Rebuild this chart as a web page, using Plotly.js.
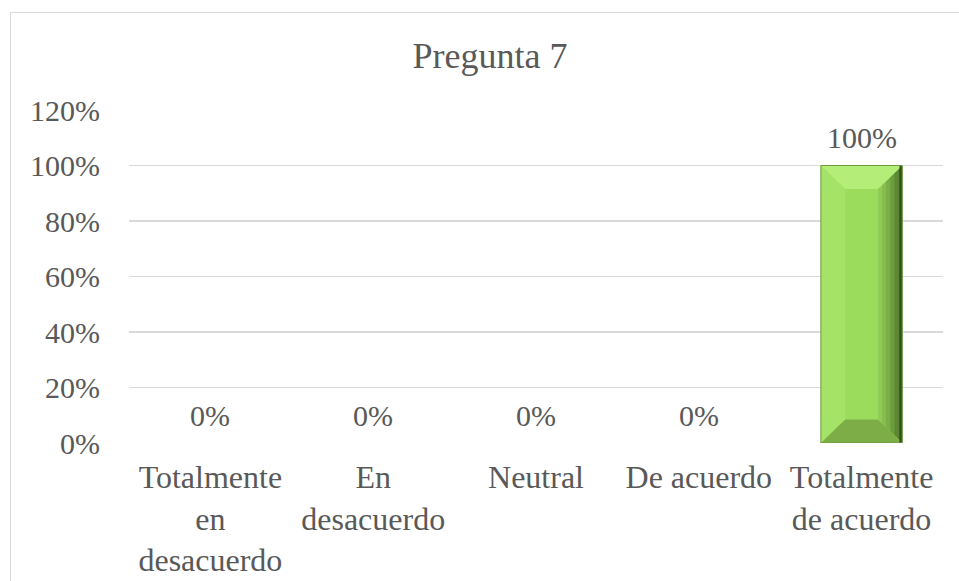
<!DOCTYPE html>
<html>
<head>
<meta charset="utf-8">
<script src="https://cdn.plot.ly/plotly-3.0.1.min.js"></script>
<style>
  html, body { margin: 0; padding: 0; background: #ffffff; overflow: hidden; }
  #frame { position: absolute; left: 10px; top: 12px; width: 980px; height: 620px; border: 1.5px solid #d9d9d9; box-sizing: border-box; pointer-events: none; z-index: 5; }
  #chart { width: 959px; height: 581px; }
</style>
</head>
<body>
<div id="frame"></div>
<div id="chart"></div>
<script>
// ---- data ----
const categories = ["Totalmente<br>en<br>desacuerdo", "En<br>desacuerdo", "Neutral", "De acuerdo", "Totalmente<br>de acuerdo"];
const values = [0, 0, 0, 0, 1.0];
const yTickVals = [0, 0.2, 0.4, 0.6, 0.8, 1.0, 1.2];
const chartTitle = "Pregunta 7";

// ---- styling ----
const textColor = "#595959";
const fontFamily = "Liberation Serif, Times New Roman, serif";
const barWidth = 0.5;
const bevelX = 0.15;   // in category units
const bevelY = 0.085;  // in value units

const idx = categories.map((_, i) => i);

const barTrace = {
  type: "bar",
  x: idx,
  y: values,
  width: barWidth,
  marker: { color: "#9cdc5c", line: { width: 0 } },
  hoverinfo: "skip",
  showlegend: false
};

// bevel facets computed from the bar data
const shapes = [];
idx.forEach(i => {
  const v = values[i];
  if (v <= 0) return;
  const x0 = i - barWidth / 2, x1 = i + barWidth / 2;
  const ix0 = x0 + bevelX, ix1 = x1 - bevelX;
  const iy0 = bevelY, iy1 = v - bevelY;
  const facet = (pts, color) => shapes.push({
    type: "path", xref: "x", yref: "y",
    path: "M" + pts.map(p => p[0] + "," + p[1]).join(" L") + " Z",
    fillcolor: color, line: { width: 0 }, layer: "above"
  });
  // left
  facet([[x0, 0], [ix0, iy0], [ix0, iy1], [x0, v]], "#a4e268");
  // right (gradient in strips)
  const strips = ["#90cc55", "#85bd4e", "#7aae47", "#6c9c3e", "#5c8834", "#4a7029"];
  const n = strips.length;
  strips.forEach((c, k) => {
    const a = ix1 + (x1 - ix1) * k / n, b = ix1 + (x1 - ix1) * (k + 1) / n;
    const ya0 = iy0 * (1 - k / n), yb0 = iy0 * (1 - (k + 1) / n);
    const ya1 = v - (v - iy1) * (1 - k / n), yb1 = v - (v - iy1) * (1 - (k + 1) / n);
    facet([[a, ya0], [b, yb0], [b, yb1], [a, ya1]], c);
  });
  // top
  facet([[x0, v], [ix0, iy1], [ix1, iy1], [x1, v]], "#b4ee79");
  // bottom
  facet([[x0, 0], [ix0, iy0], [ix1, iy0], [x1, 0]], "#7dad47");
  // dark right edge
  shapes.push({ type: "line", xref: "x", yref: "y", x0: x1 - 0.01, x1: x1 - 0.01, y0: 0, y1: v,
    line: { color: "#34501c", width: 2.5 }, layer: "above" });
  // outline
  shapes.push({ type: "rect", xref: "x", yref: "y", x0: x0, x1: x1, y0: 0, y1: v,
    line: { color: "#6d9a3c", width: 1 }, fillcolor: "rgba(0,0,0,0)", layer: "above" });
});

const annotations = idx.map(i => ({
  x: i, y: values[i], xref: "x", yref: "y",
  text: Math.round(values[i] * 100) + "%",
  showarrow: false, yanchor: "middle", yshift: 28,
  font: { family: fontFamily, size: 30, color: textColor }
}));

const layout = {
  width: 959, height: 581,
  margin: { l: 129, r: 16, t: 110, b: 138 },
  paper_bgcolor: "#ffffff", plot_bgcolor: "#ffffff",
  font: { family: fontFamily, size: 30, color: textColor },
  title: {
    text: chartTitle,
    font: { family: fontFamily, size: 36, color: textColor },
    xref: "container", yref: "container", x: 0.511, y: 0.905,
    xanchor: "center", yanchor: "middle"
  },
  xaxis: {
    type: "linear",
    range: [-0.5, 4.5],
    tickvals: idx, ticktext: categories,
    showgrid: false, zeroline: false, showline: false,
    ticks: "", ticklabelstandoff: 12,
    tickfont: { family: fontFamily, size: 32, color: textColor },
    fixedrange: true
  },
  yaxis: {
    range: [0, 1.2],
    tickvals: yTickVals,
    tickformat: ".0%",
    showgrid: true, gridcolor: "#d9d9d9", gridwidth: 1.5,
    zeroline: false, showline: false, ticks: "",
    ticklabelstandoff: 28,
    tickfont: { family: fontFamily, size: 30, color: textColor },
    fixedrange: true
  },
  shapes: shapes,
  annotations: annotations,
  bargap: 0.5
};

Plotly.newPlot("chart", [barTrace], layout, { displayModeBar: false, staticPlot: true });
</script>
</body>
</html>
